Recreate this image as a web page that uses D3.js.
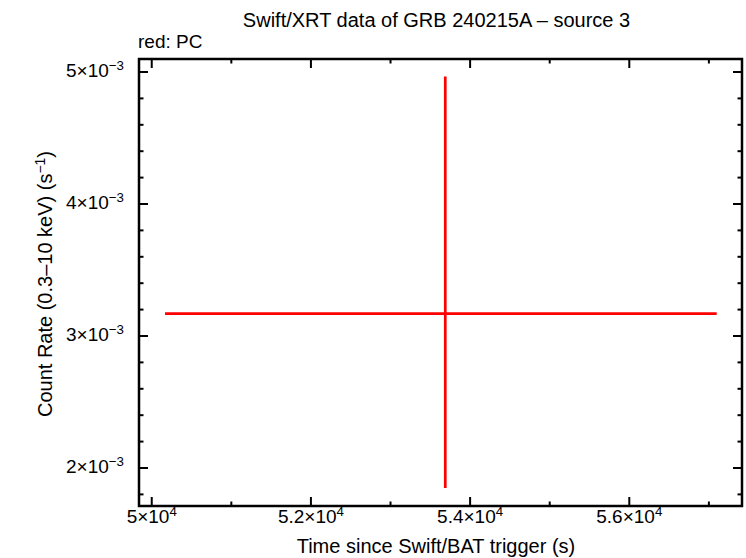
<!DOCTYPE html>
<html>
<head>
<meta charset="utf-8">
<script src="https://cdn.jsdelivr.net/npm/d3@7"></script>
<style>
  html, body { margin: 0; padding: 0; background: #fff; }
  text { font-family: "Liberation Sans", Arial, Helvetica, sans-serif; fill: #000; }
</style>
</head>
<body>
<svg id="chart" width="746" height="558"></svg>
<script>
// ---- data ----
const times = [53688];          // s since trigger
const timeErrNeg = [3521];
const timePos = [3410];
const rates = [3.170e-3];       // count/s
const rateErrNeg = [1.322e-3];
const rateErrPos = [1.796e-3];

const xMajorTicks = [50000, 52000, 54000, 56000];
const xMinorTicks = [51000, 53000, 55000, 57000];
const yMajorTicks = [2e-3, 3e-3, 4e-3, 5e-3];
const yMinorTicks = [1.8e-3, 2.2e-3, 2.4e-3, 2.6e-3, 2.8e-3, 3.2e-3, 3.4e-3, 3.6e-3, 3.8e-3, 4.2e-3, 4.4e-3, 4.6e-3, 4.8e-3, 5.0e-3];
const xTickMantissa = ["5", "5.2", "5.4", "5.6"];
const xTickExponent = "4";
const yTickMantissa = ["2", "3", "4", "5"];
const yTickExponent = "\u22123";

const titleText = "Swift/XRT data of GRB 240215A \u2013 source 3";
const subtitleText = "red: PC";
const xLabel = "Time since Swift/BAT trigger (s)";

// ---- layout ----
const L = 139, R = 742, T = 59, B = 506;
const svg = d3.select("#chart");

const x = d3.scaleLinear().domain([49840, 57416]).range([L, R]);
const y = d3.scaleLinear().domain([1.712e-3, 5.0985e-3]).range([B, T]);

const majorLen = 9, minorLen = 4.5;
const ax = svg.append("g").attr("stroke", "#000").attr("stroke-width", 2);

// bottom & top ticks
xMajorTicks.forEach(v => {
  ax.append("line").attr("x1", x(v)).attr("x2", x(v)).attr("y1", B).attr("y2", B - majorLen);
  ax.append("line").attr("x1", x(v)).attr("x2", x(v)).attr("y1", T).attr("y2", T + majorLen);
});
xMinorTicks.forEach(v => {
  ax.append("line").attr("x1", x(v)).attr("x2", x(v)).attr("y1", B).attr("y2", B - minorLen);
  ax.append("line").attr("x1", x(v)).attr("x2", x(v)).attr("y1", T).attr("y2", T + minorLen);
});
// left & right ticks
yMajorTicks.forEach(v => {
  ax.append("line").attr("x1", L).attr("x2", L + majorLen).attr("y1", y(v)).attr("y2", y(v));
  ax.append("line").attr("x1", R).attr("x2", R - majorLen).attr("y1", y(v)).attr("y2", y(v));
});
yMinorTicks.filter(v => !yMajorTicks.includes(v)).forEach(v => {
  if (y(v) < T + 1 || y(v) > B - 1) return;
  ax.append("line").attr("x1", L).attr("x2", L + minorLen).attr("y1", y(v)).attr("y2", y(v));
  ax.append("line").attr("x1", R).attr("x2", R - minorLen).attr("y1", y(v)).attr("y2", y(v));
});

// frame
svg.append("rect").attr("x", L).attr("y", T).attr("width", R - L).attr("height", B - T)
  .attr("fill", "none").attr("stroke", "#000").attr("stroke-width", 2.5);

// ---- data: error crosses ----
const g = svg.append("g").attr("stroke", "#ff0000").attr("stroke-width", 2.7);
times.forEach((t, i) => {
  g.append("line").attr("x1", x(t - timeErrNeg[i])).attr("x2", x(t + timePos[i]))
    .attr("y1", y(rates[i])).attr("y2", y(rates[i]));
  g.append("line").attr("x1", x(t)).attr("x2", x(t))
    .attr("y1", y(rates[i] - rateErrNeg[i])).attr("y2", y(rates[i] + rateErrPos[i]));
});

// ---- tick labels ----
const fs = 19;
xMajorTicks.forEach((v, i) => {
  const tx = svg.append("text").attr("x", x(v)).attr("y", 523).attr("text-anchor", "middle")
    .attr("font-size", fs);
  tx.append("tspan").text(xTickMantissa[i] + "\u00d710");
  tx.append("tspan").attr("dy", -7).attr("font-size", fs * 0.7).text(xTickExponent);
});
yMajorTicks.forEach((v, i) => {
  const tx = svg.append("text").attr("x", 124).attr("y", y(v) + 5).attr("text-anchor", "end")
    .attr("font-size", fs);
  tx.append("tspan").text(yTickMantissa[i] + "\u00d710");
  tx.append("tspan").attr("dy", -7).attr("font-size", fs * 0.7).text(yTickExponent);
});

// ---- titles ----
svg.append("text").attr("x", 436.5).attr("y", 27).attr("text-anchor", "middle")
  .attr("font-size", 20).text(titleText);
svg.append("text").attr("x", 138).attr("y", 48).attr("font-size", 19).text(subtitleText);
svg.append("text").attr("x", 436).attr("y", 553).attr("text-anchor", "middle")
  .attr("font-size", 20).text(xLabel);

const yl = svg.append("text").attr("transform", "translate(52,284) rotate(-90)")
  .attr("text-anchor", "middle").attr("font-size", 20);
yl.append("tspan").text("Count Rate (0.3\u201310 keV) (s");
yl.append("tspan").attr("dy", -7).attr("font-size", 14).text("\u22121");
yl.append("tspan").attr("dy", 7).text(")");
</script>
</body>
</html>
